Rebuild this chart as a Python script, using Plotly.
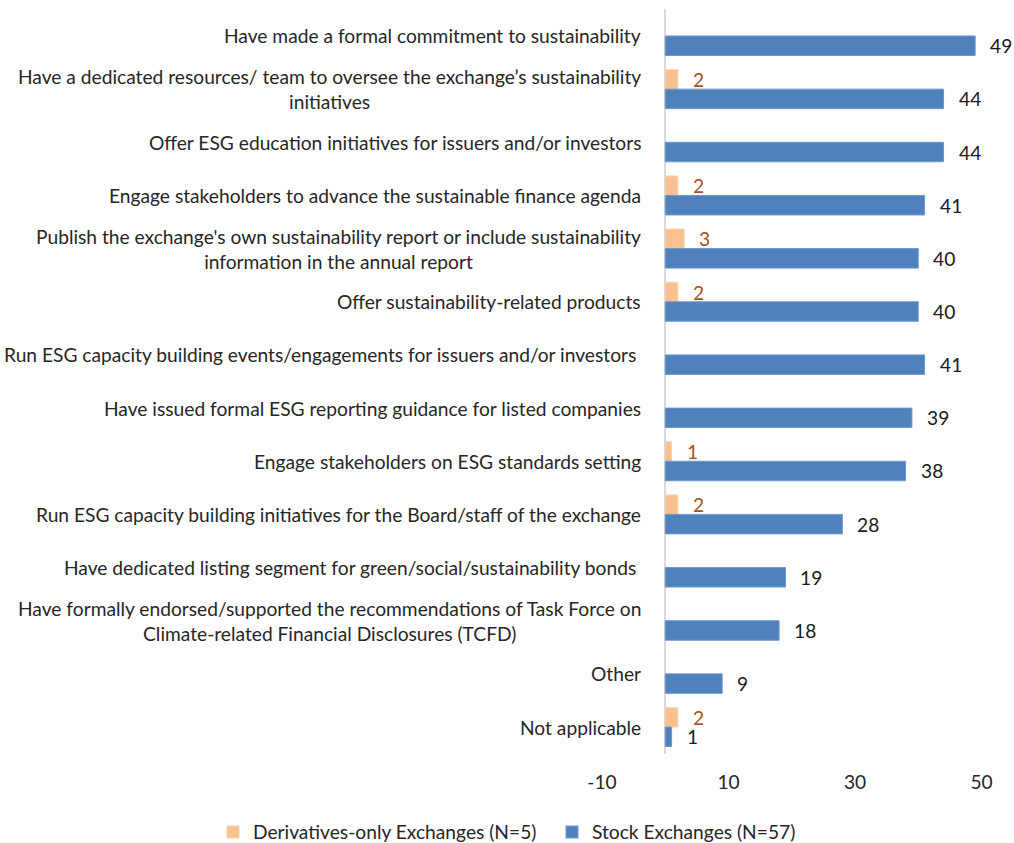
import plotly.graph_objects as go

categories = [
    "Have made a formal commitment to sustainability",
    "Have a dedicated resources/ team to oversee the exchange\u2019s sustainability<br>initiatives",
    "Offer ESG education initiatives for issuers and/or investors",
    "Engage stakeholders to advance the sustainable finance agenda",
    "Publish the exchange's own sustainability report or include sustainability<br>information in the annual report",
    "Offer sustainability-related products",
    "Run ESG capacity building events/engagements for issuers and/or investors\u00a0",
    "Have issued formal ESG reporting guidance for listed companies",
    "Engage stakeholders on ESG standards setting",
    "Run ESG capacity building initiatives for the Board/staff of the exchange",
    "Have dedicated listing segment for green/social/sustainability bonds\u00a0",
    "Have formally endorsed/supported the recommendations of Task Force on<br>Climate-related Financial Disclosures (TCFD)",
    "Other",
    "Not applicable",
]
derivatives = [None, 2, None, 2, 3, 2, None, None, 1, 2, None, None, None, 2]
stock = [49, 44, 44, 41, 40, 40, 41, 39, 38, 28, 19, 18, 9, 1]
series_names = ["Derivatives-only Exchanges (N=5)", "Stock Exchanges (N=57)"]
x_ticks = [-10, 10, 30, 50]

W, H = 1014, 843
FONT = "Lato, Carlito, Calibri, sans-serif"
FS = 19.2
ORANGE = "#FAC090"
BLUE = "#4F81BD"

fig = go.Figure()
fig.add_trace(go.Bar(
    y=categories, x=derivatives, orientation="h", name=series_names[0],
    marker=dict(color=ORANGE, line=dict(color="#FCD3B0", width=1)),
))
fig.add_trace(go.Bar(
    y=categories, x=stock, orientation="h", name=series_names[1],
    marker=dict(color=BLUE, line=dict(color="#6F98CB", width=1)),
))

annotations = []
for c in categories:
    annotations.append(dict(
        x=0, y=c, xref="x", yref="y", text=c, showarrow=False,
        xanchor="right", yanchor="middle", align="center", xshift=-22,
        font=dict(family=FONT, size=FS, color="#262626"),
    ))
for vals, shift, col in [(derivatives, 9.75, "#A5521A"), (stock, -9.75, "#1A1A1A")]:
    for c, v in zip(categories, vals):
        if v is None:
            continue
        annotations.append(dict(
            x=v, y=c, xref="x", yref="y", text=str(v), showarrow=False,
            xanchor="left", yanchor="middle", xshift=13, yshift=shift,
            font=dict(family=FONT, size=FS, color=col),
        ))

fig.update_layout(
    width=W, height=H,
    margin=dict(l=0, r=0, t=0, b=0, autoexpand=False),
    paper_bgcolor="white", plot_bgcolor="white",
    barmode="group", bargap=0.266, bargroupgap=0,
    font=dict(family=FONT, size=FS, color="#262626"),
    xaxis=dict(
        domain=[602 / W, 981.5 / W],
        range=[-10, 50], tickvals=x_ticks, ticktext=[str(t) for t in x_ticks],
        showgrid=False, showline=False, ticks="", automargin=False,
        zeroline=True, zerolinecolor="#D9D9D9", zerolinewidth=2,
        tickfont=dict(family=FONT, size=FS, color="#262626"),
        ticklabelstandoff=15,
    ),
    yaxis=dict(
        domain=[(H - 753.6) / H, (H - 9.4) / H],
        categoryorder="array", categoryarray=categories, autorange="reversed",
        showticklabels=False, showgrid=False, showline=False, ticks="", zeroline=False,
        automargin=False,
    ),
    legend=dict(
        orientation="h", x=213 / W, y=(H - 832) / H, xanchor="left", yanchor="middle",
        entrywidth=294, entrywidthmode="pixels",
        font=dict(family=FONT, size=FS, color="#262626"), traceorder="normal",
    ),
    annotations=annotations,
    showlegend=True,
)

fig.write_html(
    "out.html",
    config={"displayModeBar": False},
    post_script="document.body.style.margin='0px';",
)
